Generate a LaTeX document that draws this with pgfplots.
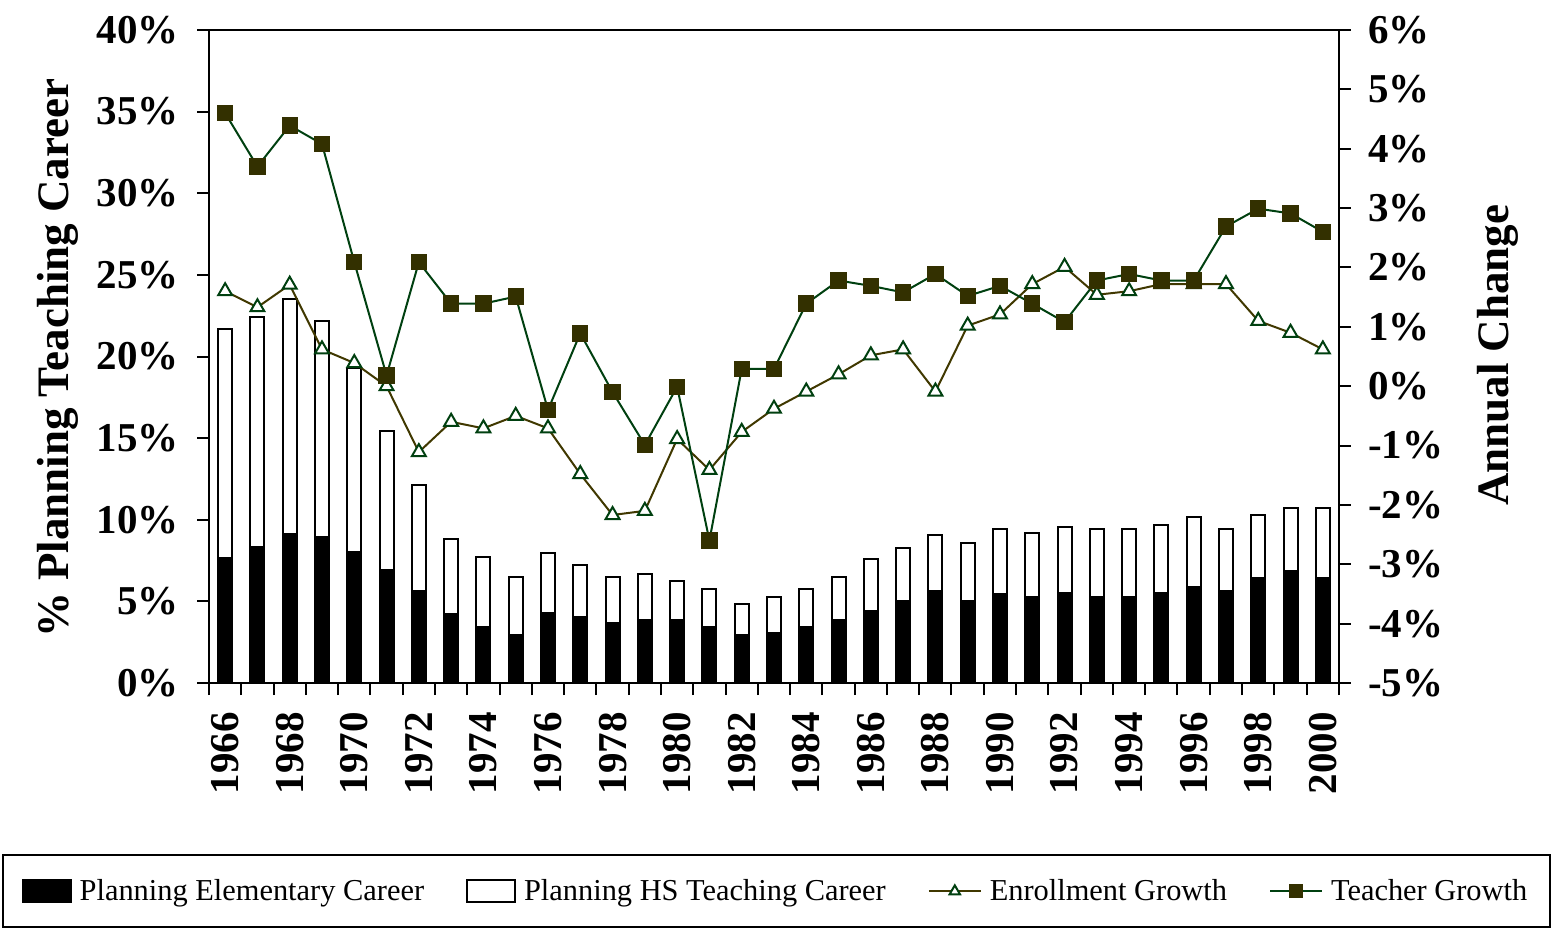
\documentclass[border=0pt]{standalone}
\usepackage{pgfplots}
\usepackage{pgfplotstable}
\pgfplotsset{compat=1.18}
\usepackage{fontspec}
\setmainfont{Liberation Serif}
\definecolor{tolive}{RGB}{51,48,0}
\definecolor{tgreen}{RGB}{0,64,16}
\definecolor{tbrown}{RGB}{64,56,0}

\pgfplotsset{
  barleg/.style={legend image code/.code={\draw[##1] (0pt,-5.5pt) rectangle (24pt,5.5pt);}},
  lineleg/.style={legend image code/.code={\draw[mark repeat=2, mark phase=2, ##1, mark size=3pt] plot coordinates {(0pt,0pt)(13pt,0pt)(26pt,0pt)};}},
}

\pgfplotstableread{
year elem hs
1966 7.63 14.07
1967 8.35 14.05
1968 9.10 14.40
1969 8.96 13.24
1970 8.00 11.30
1971 6.90 8.55
1972 5.66 6.44
1973 4.20 4.60
1974 3.46 4.24
1975 2.93 3.57
1976 4.30 3.65
1977 4.04 3.19
1978 3.70 2.80
1979 3.83 2.87
1980 3.83 2.39
1981 3.46 2.31
1982 2.95 1.92
1983 3.09 2.15
1984 3.46 2.31
1985 3.83 2.67
1986 4.44 3.14
1987 5.05 3.25
1988 5.66 3.38
1989 5.05 3.51
1990 5.43 3.98
1991 5.29 3.89
1992 5.53 4.02
1993 5.29 4.12
1994 5.29 4.12
1995 5.53 4.12
1996 5.90 4.26
1997 5.66 3.75
1998 6.41 3.86
1999 6.89 3.85
2000 6.41 4.33
}\bars

\pgfplotstableread{
year enroll teacher
1966 1.60 4.60
1967 1.33 3.70
1968 1.71 4.39
1969 0.62 4.08
1970 0.39 2.09
1971 0.00 0.18
1972 -1.11 2.09
1973 -0.60 1.39
1974 -0.71 1.39
1975 -0.50 1.51
1976 -0.71 -0.40
1977 -1.48 0.89
1978 -2.17 -0.10
1979 -2.10 -0.99
1980 -0.89 -0.01
1981 -1.41 -2.60
1982 -0.77 0.29
1983 -0.38 0.29
1984 -0.09 1.39
1985 0.20 1.78
1986 0.52 1.69
1987 0.62 1.58
1988 -0.09 1.89
1989 1.02 1.52
1990 1.21 1.69
1991 1.72 1.39
1992 2.01 1.08
1993 1.54 1.78
1994 1.60 1.89
1995 1.72 1.78
1996 1.72 1.78
1997 1.72 2.69
1998 1.10 2.99
1999 0.90 2.91
2000 0.62 2.60
}\lines

\begin{document}
\begin{tikzpicture}
\path[use as bounding box] (-104.5pt,-122pt) rectangle (672pt,341.5pt);
\begin{axis}[
  at={(0pt,0pt)}, anchor=south west,
  scale only axis, width=565pt, height=326.5pt,
  xmin=1965.5, xmax=2000.5, ymin=0, ymax=40,
  ybar stacked, bar width=7pt,
  xtick={1966,1968,...,2000},
  major x tick style={draw=none},
  minor xtick={1965.5,1966.5,...,2000.5},
  ytick={0,5,...,40},
  yticklabel={\pgfmathprintnumber{\tick}\%},
  /pgf/number format/assume math mode=true,
  /pgf/number format/1000 sep={},
  tick align=outside, tick pos=left,
  major tick length=6pt, minor tick length=6pt,
  every tick/.style={black, line width=1pt},
  axis line style={line width=1pt},
  tick label style={font=\fontsize{20.5}{24}\selectfont\bfseries},
  xticklabel style={rotate=90, anchor=east, xshift=-5pt},
  yticklabel style={xshift=-5.5pt},
  ylabel={\% Planning Teaching Career},
  ylabel style={at={(axis description cs:-0.1340,0.498)}, anchor=center, font=\fontsize{22.5}{26}\selectfont\bfseries},
]
\addplot[fill=black, draw=black, line width=1pt] table[x=year, y=elem] {\bars};
\addplot[fill=white, draw=black, line width=1pt] table[x=year, y=hs] {\bars};
\end{axis}
\begin{axis}[
  at={(0pt,0pt)}, anchor=south west,
  scale only axis, width=565pt, height=326.5pt,
  xmin=1965.5, xmax=2000.5, ymin=-5, ymax=6,
  axis x line=none, axis y line*=right,
  ytick={-5,-4,...,6},
  yticklabel={\pgfmathprintnumber{\tick}\%},
  /pgf/number format/assume math mode=true,
  tick align=outside,
  major tick length=6pt,
  every tick/.style={black, line width=1pt},
  axis line style={line width=1pt},
  tick label style={font=\fontsize{20.5}{24}\selectfont\bfseries},
  yticklabel style={xshift=5pt},
  ylabel={Annual Change},
  ylabel style={at={(axis description cs:1.141,0.502)}, anchor=center, font=\fontsize{22.5}{26}\selectfont\bfseries},
  legend columns=4,
  legend style={at={(axis description cs:0.5022,-0.319)}, anchor=center, draw=black, line width=1pt,
    font=\fontsize{15.2}{18}\selectfont, inner xsep=9.5pt, inner ysep=10pt,
    /tikz/every odd column/.append style={column sep=2pt},
    /tikz/every even column/.append style={column sep=19pt}},
]
\addlegendimage{barleg, fill=black, draw=black, line width=1pt}
\addlegendentry{Planning Elementary Career}
\addlegendimage{barleg, fill=white, draw=black, line width=1pt}
\addlegendentry{Planning HS Teaching Career}
\addplot[tbrown, line width=1pt, mark=triangle*, mark size=4pt,
  mark options={draw=tgreen, fill=white, line width=1pt, solid}, lineleg]
  table[x=year, y=enroll] {\lines};
\addlegendentry{Enrollment Growth}
\addplot[tgreen, line width=1pt, mark=square*, mark size=3.6pt,
  mark options={draw=tolive, fill=tolive, solid}, lineleg]
  table[x=year, y=teacher] {\lines};
\addlegendentry{Teacher Growth}
\end{axis}
\end{tikzpicture}
\end{document}
